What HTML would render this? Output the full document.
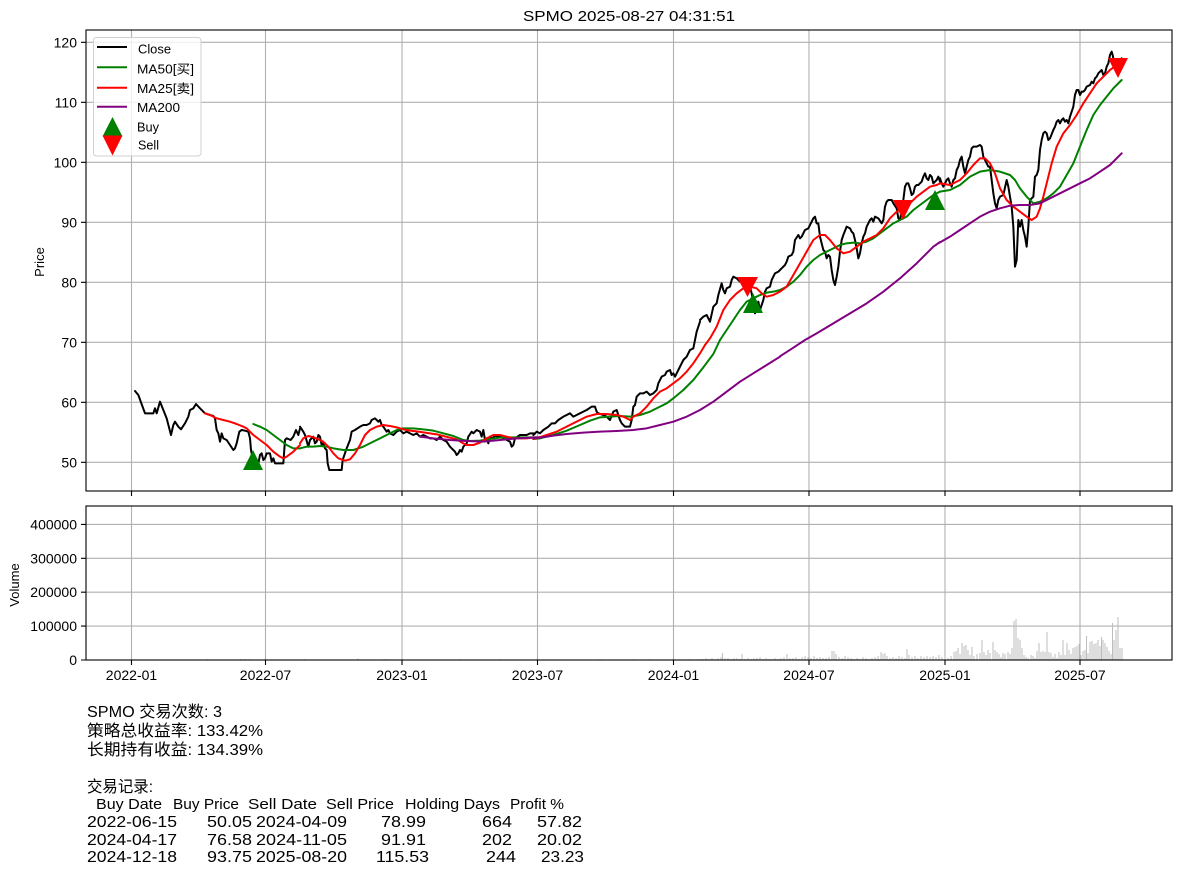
<!DOCTYPE html>
<html><head><meta charset="utf-8">
<style>
html,body{margin:0;padding:0;background:#fff;}
svg{display:block;font-family:"Liberation Sans","Noto Sans CJK SC",sans-serif;}
</style></head>
<body>
<svg width="1180" height="875" viewBox="0 0 1180 875" xmlns="http://www.w3.org/2000/svg">
<rect width="1180" height="875" fill="#fff"/>
<!-- title -->
<text x="523" y="21" font-size="15" textLength="212" lengthAdjust="spacingAndGlyphs">SPMO 2025-08-27 04:31:51</text>

<!-- ===== PRICE AXES ===== -->
<g stroke="#b0b0b0" stroke-width="1.1" fill="none">
  <path d="M131.5 30V491M265.5 30V491M402 30V491M537.5 30V491M673.5 30V491M809 30V491M945 30V491M1080 30V491"/>
  <path d="M86 42.3H1172M86 102.3H1172M86 162.3H1172M86 222.3H1172M86 282.3H1172M86 342.3H1172M86 402.3H1172M86 462.3H1172"/>
</g>
<g font-size="14" text-anchor="end" fill="#000">
  <text x="77" y="47.3">120</text>
  <text x="77" y="107.3">110</text>
  <text x="77" y="167.3">100</text>
  <text x="77" y="227.3">90</text>
  <text x="77" y="287.3">80</text>
  <text x="77" y="347.3">70</text>
  <text x="77" y="407.3">60</text>
  <text x="77" y="467.3">50</text>
</g>
<g stroke="#000" stroke-width="1.1">
  <path d="M81 42.3H86M81 102.3H86M81 162.3H86M81 222.3H86M81 282.3H86M81 342.3H86M81 402.3H86M81 462.3H86"/>
  <path d="M131.5 491V496M265.5 491V496M402 491V496M537.5 491V496M673.5 491V496M809 491V496M945 491V496M1080 491V496"/>
</g>
<text transform="translate(44,262) rotate(-90)" font-size="13" text-anchor="middle">Price</text>

<!-- Close line -->
<g fill="none" stroke="#000" stroke-width="2" stroke-linejoin="round" stroke-linecap="round">
<polyline vector-effect="non-scaling-stroke" transform="translate(120,380) scale(0.33333)" points="45,33 55,45 75,100 100,100 105,85 110,100 120,65 130,90 140,115 153,165 160,135 165,125 175,140 183,148 195,130 205,110 210,90 220,85 228,72 240,85 255,100 270,105 280,108 285,115 290,150 295,160 300,185 305,160 310,175 320,180 330,195 340,210 345,205 350,190 358,155 365,150 375,152 385,155 390,175 393,210 398,235 402,262 410,250 415,250 420,225 425,220 430,240 435,235 440,220 450,220 455,245 460,235 465,250 490,250 495,180 500,175 512,180 520,170 528,150 535,165 540,145"/>
<polyline vector-effect="non-scaling-stroke" transform="translate(300,400) scale(0.33333)" points="0,80 10,95 15,105 25,140 30,120 40,110 45,130 50,125 55,105 60,110 65,135 70,130 75,145 80,150 83,190 88,210 125,210 128,180 140,145 150,120 155,95 165,90 180,80 190,75 200,75 210,70 215,60 225,55 235,65 240,60 245,75 250,80 260,95 265,90 270,100 280,105 290,95 300,90 310,100 320,95 330,100 340,105 350,100 360,110 370,105 380,110 390,115 400,115 410,120 420,110 430,120 440,125 450,140 460,150 465,155 470,165 475,160 480,150 485,155 490,140 500,130 505,110 515,95 520,100 530,90 540,95 545,110 550,90 555,120 560,115 565,130 570,110 580,115 585,105 590,110 600,110 610,115 620,120 630,125 635,140 640,135 645,115 660,105 670,105 680,105 690,100 700,100 705,101"/>
<polyline vector-effect="non-scaling-stroke" transform="translate(400,260) scale(0.33333)" points="400,525 410,515 420,520 430,510 445,500 455,490 465,490 475,480 490,470 500,465 510,460 520,470 530,465 540,460 550,455 560,450 575,440 585,440 590,455 595,460 610,465 620,470 630,480 640,455 650,450 655,465 660,480 665,490 675,500 690,500 695,480 700,440 705,435 710,410 720,400 730,400 740,395 750,405 760,400 770,390 775,370 785,350 795,345 800,335 810,330 815,345 820,340 825,350 835,330 840,320 850,300 860,290 870,270 880,265 890,215 895,200 900,185"/>
<polyline vector-effect="non-scaling-stroke" transform="translate(700,140) scale(0.33333)" points="0,540 10,530 20,525 30,545 40,500 50,490 55,465 65,430 70,450 75,460 80,445 90,440 95,420 100,410 110,415 120,425 130,430 140,420 150,440 155,460 160,495 165,520 170,500 175,485 180,510 185,495 190,480 195,455 200,445 210,440 215,420 225,400 235,395 240,390 245,385 255,375 260,365 265,350 275,345 280,335 285,300 295,285 300,295 305,290 315,270 325,265 335,245 340,235 345,230 350,250 355,250 360,290 365,310 370,330 375,335 380,355 385,345 390,350 395,390 400,420 405,435 410,410 415,380 420,335 425,300 430,285 440,260 450,265 455,275 460,280 465,300 470,325 475,355 480,340 485,310 490,290 495,280 500,260 505,250 510,240 515,235 520,245 525,230 535,235 545,250 550,240 555,200 560,185 565,180 575,180 580,190 590,205 595,235 600,240 605,210 610,180 615,140 620,130 625,130 630,145 635,165 640,160 645,140 650,135 655,135 660,130 665,125 670,110 675,100 680,115 685,120 690,105 695,110 700,130 710,120 715,110 720,125"/>
<polyline vector-effect="non-scaling-stroke" transform="translate(940,40) scale(0.33333)" points="0,415 5,430 10,440 20,420 25,415 30,430 35,440 40,420 45,415 50,390 55,380 60,360 65,350 70,380 75,400 80,380 85,360 90,350 95,325 100,320 110,320 120,315 125,320 130,350 140,370 145,380 150,380 155,420 160,460 165,490 170,505 175,480 180,470 190,465 200,420 205,440 210,470 215,500 220,560 225,680 230,660 235,540 240,560 245,540 250,570 255,590 260,620 265,560 270,480 280,470 285,410 290,405 295,390 300,330 305,300 310,280 315,275 320,280 325,300 330,295 340,270 345,260 350,245 355,240 360,250 365,240 370,235 375,245 380,240 385,250 390,230 395,215 400,200 405,165 410,150 415,150 420,165 425,155 430,155 435,150 440,140 450,135 455,125 460,130 465,115 470,110 475,100 480,95 485,90 490,105 495,100 500,80 505,70 510,45 515,35 518,45 520,55 525,60 530,70 535,80 540,65 545,55"/>
</g>

<!-- MA50 green -->
<g fill="none" stroke="#008000" stroke-width="2" stroke-linejoin="round" stroke-linecap="round">
<polyline vector-effect="non-scaling-stroke" transform="translate(120,380) scale(0.33333)" points="400,132 420,140 440,150 460,165 480,180 500,195 520,205 540,205"/>
<polyline vector-effect="non-scaling-stroke" transform="translate(300,400) scale(0.33333)" points="0,145 20,140 40,140 60,138 80,140 100,145 130,150 160,150 190,140 220,125 250,110 270,100 290,90 310,85 340,85 370,88 400,92 430,100 460,108 490,120 510,123 540,122 570,117 600,113 630,112 660,112 690,112 720,112"/>
<polyline vector-effect="non-scaling-stroke" transform="translate(400,260) scale(0.33333)" points="400,537 420,535 460,525 500,512 540,495 570,482 600,472 630,470 660,468 690,470 720,465 750,455 780,440 800,430 820,415 850,390 880,360 910,322 940,282 960,240"/>
<polyline vector-effect="non-scaling-stroke" transform="translate(700,140) scale(0.33333)" points="60,600 80,570 100,540 120,510 140,485 160,475 180,465 200,458 220,455 240,450 260,440 280,425 300,405 320,380 340,360 360,345 380,335 400,325 420,315 440,310 460,308 480,310 500,305 520,295 540,280 560,265 580,250 600,240 620,230 640,210 660,195 680,180 700,165 720,155"/>
<polyline vector-effect="non-scaling-stroke" transform="translate(940,40) scale(0.33333)" points="0,455 30,450 60,435 90,410 120,395 150,390 180,395 210,405 225,420 240,445 260,470 280,490 300,485 320,475 340,460 360,440 380,405 400,370 420,320 440,270 460,225 480,195 500,170 520,145 545,120"/>
</g>

<!-- MA25 red -->
<g fill="none" stroke="#ff0000" stroke-width="2" stroke-linejoin="round" stroke-linecap="round">
<polyline vector-effect="non-scaling-stroke" transform="translate(120,380) scale(0.33333)" points="255,100 270,105 290,115 310,120 330,125 350,132 370,140 380,145 390,155 400,165 420,180 440,195 460,215 480,230 490,235 500,230 520,215 540,195"/>
<polyline vector-effect="non-scaling-stroke" transform="translate(300,400) scale(0.33333)" points="0,130 10,115 25,108 40,112 55,118 70,125 85,140 100,160 115,175 135,182 150,178 165,160 180,135 195,105 210,90 230,80 250,75 270,78 290,82 310,88 330,92 350,94 370,97 390,100 410,103 430,108 450,113 470,118 490,130 500,135 520,135 540,128 560,115 580,105 600,105 620,110 640,115 660,115 680,115 700,112 720,112"/>
<polyline vector-effect="non-scaling-stroke" transform="translate(400,260) scale(0.33333)" points="400,537 410,535 440,525 470,515 500,500 530,485 560,470 590,462 620,462 650,465 670,470 690,480 700,470 720,460 740,440 760,415 780,395 800,385 820,370 840,355 860,335 880,310 900,280 915,255"/>
<polyline vector-effect="non-scaling-stroke" transform="translate(700,140) scale(0.33333)" points="15,615 30,595 50,560 70,510 90,480 110,460 130,445 150,440 170,445 185,460 200,470 220,465 240,455 260,440 280,405 300,370 320,335 340,300 360,285 375,285 390,300 410,325 430,340 450,335 470,320 490,305 510,295 530,285 550,265 570,235 590,215 610,205 630,190 650,170 670,155 690,140 710,135 720,130"/>
<polyline vector-effect="non-scaling-stroke" transform="translate(940,40) scale(0.33333)" points="0,430 30,435 60,420 80,400 100,375 120,355 135,355 150,370 165,400 180,445 200,480 220,500 240,515 260,530 275,540 290,530 300,505 310,470 320,430 335,370 350,320 370,280 390,255 410,225 430,190 450,160 470,130 490,110 510,90 530,75 545,60"/>
</g>

<!-- MA200 purple -->
<g fill="none" stroke="#800080" stroke-width="2" stroke-linejoin="round" stroke-linecap="round">
<polyline vector-effect="non-scaling-stroke" transform="translate(300,400) scale(0.33333)" points="360,110 400,115 450,120 500,123 550,125 600,120 650,115 700,113 720,112"/>
<polyline vector-effect="non-scaling-stroke" transform="translate(400,260) scale(0.33333)" points="400,535 420,533 460,527 500,522 550,518 600,515 650,513 700,510 740,505 780,495 820,485 860,470 900,450 940,425 980,395 1020,365 1060,340 1100,315 1140,290"/>
<polyline vector-effect="non-scaling-stroke" transform="translate(700,140) scale(0.33333)" points="240,649 280,623 315,600 350,580 400,550 450,520 500,490 550,455 600,415 650,370 700,320 720,306"/>
<polyline vector-effect="non-scaling-stroke" transform="translate(940,40) scale(0.33333)" points="0,607 30,590 60,570 90,550 120,530 150,515 180,505 210,497 240,495 270,495 300,490 330,475 360,460 390,445 420,430 450,415 480,395 510,375 545,340"/>
</g>

<!-- markers -->
<g fill="#008000">
  <polygon points="253,450 243,470 263,470"/>
  <polygon points="753,293 743,313 763,313"/>
  <polygon points="935,190 925,210 945,210"/>
</g>
<g fill="#ff0000">
  <polygon points="737,277 758,277 747.5,297"/>
  <polygon points="893,200 913,200 903,220"/>
  <polygon points="1108,58 1128,58 1118,78"/>
</g>

<!-- legend -->
<rect x="93.5" y="37.5" width="107.5" height="118.5" rx="3" fill="#fff" fill-opacity="0.8" stroke="#d0d0d0" stroke-width="1"/>
<g stroke-width="2">
  <line x1="97" y1="47" x2="127" y2="47" stroke="#000"/>
  <line x1="97" y1="67.3" x2="127" y2="67.3" stroke="#008000"/>
  <line x1="97" y1="87.7" x2="127" y2="87.7" stroke="#ff0000"/>
  <line x1="97" y1="106.7" x2="127" y2="106.7" stroke="#800080"/>
</g>
<polygon points="112.5,117 102.5,136.5 122.5,136.5" fill="#008000"/>
<polygon points="102.5,135.5 122.5,135.5 112.5,155.5" fill="#ff0000"/>
<g font-size="12.5" fill="#000">
  <text x="138" y="53.5" textLength="33" lengthAdjust="spacingAndGlyphs">Close</text>
  <text x="137" y="73.5" textLength="57" lengthAdjust="spacingAndGlyphs">MA50[买]</text>
  <text x="137" y="93" textLength="57" lengthAdjust="spacingAndGlyphs">MA25[卖]</text>
  <text x="137" y="112" textLength="43" lengthAdjust="spacingAndGlyphs">MA200</text>
  <text x="137" y="131.5" textLength="22" lengthAdjust="spacingAndGlyphs">Buy</text>
  <text x="138" y="149.5" textLength="21" lengthAdjust="spacingAndGlyphs">Sell</text>
</g>

<!-- price axes frame -->
<rect x="86" y="30" width="1086" height="461" fill="none" stroke="#000" stroke-width="1.1"/>

<!-- ===== VOLUME AXES ===== -->
<g stroke="#b0b0b0" stroke-width="1.1" fill="none">
  <path d="M131.5 506V660M265.5 506V660M402 506V660M537.5 506V660M673.5 506V660M809 506V660M945 506V660M1080 506V660"/>
  <path d="M86 524.4H1172M86 558.3H1172M86 592.2H1172M86 626.1H1172"/>
</g>
<!-- volume bars -->
<path fill="none" stroke="#bdbdbd" stroke-width="1" d="M207 660v-1M241 660v-1M245 660v-1M250 660v-1M305 660v-1M358 660v-1.5M384 660v-1M387 660v-1M460 660v-1M500 660v-1M600 660v-1M634 660v-1M650 660v-1M690 660v-1M700 660v-1M703 660v-1M706 660v-2M709 660v-1M712 660v-2M715 660v-1M718 660v-2M721 660v-3M722.5 660v-7M725 660v-2M728 660v-2M731 660v-1M734 660v-2M737 660v-2M740 660v-1M742 660v-6M745 660v-1M748 660v-2M751 660v-1M754 660v-2M757 660v-2M760 660v-3M763 660v-1M766 660v-2M769 660v-1M772 660v-1M775 660v-2M778 660v-1M781 660v-2M784 660v-3M787 660v-6M790 660v-2M793 660v-2M796 660v-3M799 660v-1M802 660v-3M805 660v-4M808 660v-3M811 660v-2M814 660v-4M817 660v-2M820 660v-3M823 660v-2M826 660v-2M829 660v-3M832 660v-9M834 660v-9M836 660v-6M839 660v-3M842 660v-2M845 660v-4M848 660v-3M851 660v-2M854 660v-1M857 660v-2M860 660v-1M863 660v-3M866 660v-2M869 660v-1M872 660v-2M875 660v-3M878 660v-4M881 660v-8M883 660v-6M885 660v-7M887 660v-4M890 660v-2M893 660v-3M896 660v-2M899 660v-4M902 660v-3M905 660v-2M907 660v-11M909 660v-5M912 660v-3M915 660v-4M918 660v-2M921 660v-4M924 660v-3M927 660v-4M930 660v-3M933 660v-4M936 660v-3M939 660v-5M942 660v-3M945 660v-4M948 660v-2M951 660v-4M954 660v-8M956 660v-9M958 660v-12M960 660v-6M962 660v-17M964 660v-14M966 660v-15M968 660v-10M970 660v-5M972 660v-13M974 660v-4M977 660v-6M980 660v-7M982 660v-20M984 660v-8M986 660v-5M988 660v-10M990 660v-7M993 660v-18M995 660v-10M997 660v-8M999 660v-6M1001 660v-3M1003 660v-7M1005 660v-6M1008 660v-8M1010 660v-6M1012 660v-12M1014 660v-39M1016 660v-41M1018 660v-22M1020 660v-20M1022 660v-12M1024 660v-5M1026 660v-3M1028 660v-2M1031 660v-5M1033 660v-4M1035 660v-2M1037 660v-9M1039 660v-17M1041 660v-8M1043 660v-9M1045 660v-8M1047 660v-28M1049 660v-8M1051 660v-7M1053 660v-3M1055 660v-6M1057 660v-2M1059 660v-8M1061 660v-5M1063 660v-20M1065 660v-5M1067 660v-17M1069 660v-10M1071 660v-6M1073 660v-12M1075 660v-13M1077 660v-14M1079 660v-16M1081 660v-5M1083 660v-9M1085 660v-10M1086.5 660v-24M1088 660v-7M1090 660v-18M1092 660v-19M1094 660v-16M1096 660v-17M1098 660v-20M1100 660v-14M1101.5 660v-23M1103 660v-20M1105 660v-17M1107 660v-13M1109 660v-9M1111 660v-6M1112.5 660v-37M1114 660v-20M1116 660v-30M1118 660v-43M1120 660v-12M1122 660v-12"/>
<g font-size="14" text-anchor="end" fill="#000">
  <text x="77" y="529.4">400000</text>
  <text x="77" y="563.3">300000</text>
  <text x="77" y="597.2">200000</text>
  <text x="77" y="631.1">100000</text>
  <text x="77" y="665">0</text>
</g>
<g stroke="#000" stroke-width="1.1">
  <path d="M81 524.4H86M81 558.3H86M81 592.2H86M81 626.1H86M81 660H86"/>
  <path d="M131.5 660V665M265.5 660V665M402 660V665M537.5 660V665M673.5 660V665M809 660V665M945 660V665M1080 660V665"/>
</g>
<rect x="86" y="506" width="1086" height="154" fill="none" stroke="#000" stroke-width="1.1"/>
<text transform="translate(19,585) rotate(-90)" font-size="13" text-anchor="middle">Volume</text>
<g font-size="14" text-anchor="middle" fill="#000">
  <text x="131.5" y="680">2022-01</text>
  <text x="265.5" y="680">2022-07</text>
  <text x="402" y="680">2023-01</text>
  <text x="537.5" y="680">2023-07</text>
  <text x="673.5" y="680">2024-01</text>
  <text x="809" y="680">2024-07</text>
  <text x="945" y="680">2025-01</text>
  <text x="1080" y="680">2025-07</text>
</g>

<!-- ===== BOTTOM TEXT ===== -->
<g font-size="16" fill="#000">
  <text x="87" y="717" textLength="135" lengthAdjust="spacingAndGlyphs">SPMO 交易次数: 3</text>
  <text x="87" y="736" textLength="176" lengthAdjust="spacingAndGlyphs">策略总收益率: 133.42%</text>
  <text x="87" y="755" textLength="176" lengthAdjust="spacingAndGlyphs">长期持有收益: 134.39%</text>
  <text x="87" y="792" textLength="66" lengthAdjust="spacingAndGlyphs">交易记录:</text>
</g>
<g font-size="15" fill="#000">
  <text x="96" y="809" textLength="66" lengthAdjust="spacingAndGlyphs">Buy Date</text>
  <text x="173" y="809" textLength="66" lengthAdjust="spacingAndGlyphs">Buy Price</text>
  <text x="248" y="809" textLength="69" lengthAdjust="spacingAndGlyphs">Sell Date</text>
  <text x="326" y="809" textLength="68" lengthAdjust="spacingAndGlyphs">Sell Price</text>
  <text x="405" y="809" textLength="95" lengthAdjust="spacingAndGlyphs">Holding Days</text>
  <text x="510" y="809" textLength="54" lengthAdjust="spacingAndGlyphs">Profit %</text>
</g>
<g font-size="16" fill="#000">
  <text x="87" y="827" textLength="90" lengthAdjust="spacingAndGlyphs">2022-06-15</text>
  <text x="207" y="827" textLength="45" lengthAdjust="spacingAndGlyphs">50.05</text>
  <text x="256" y="827" textLength="91" lengthAdjust="spacingAndGlyphs">2024-04-09</text>
  <text x="381" y="827" textLength="45" lengthAdjust="spacingAndGlyphs">78.99</text>
  <text x="482" y="827" textLength="30" lengthAdjust="spacingAndGlyphs">664</text>
  <text x="537" y="827" textLength="45" lengthAdjust="spacingAndGlyphs">57.82</text>

  <text x="87" y="845" textLength="90" lengthAdjust="spacingAndGlyphs">2024-04-17</text>
  <text x="207" y="845" textLength="45" lengthAdjust="spacingAndGlyphs">76.58</text>
  <text x="256" y="845" textLength="91" lengthAdjust="spacingAndGlyphs">2024-11-05</text>
  <text x="381" y="845" textLength="45" lengthAdjust="spacingAndGlyphs">91.91</text>
  <text x="482" y="845" textLength="30" lengthAdjust="spacingAndGlyphs">202</text>
  <text x="537" y="845" textLength="45" lengthAdjust="spacingAndGlyphs">20.02</text>

  <text x="87" y="862" textLength="90" lengthAdjust="spacingAndGlyphs">2024-12-18</text>
  <text x="207" y="862" textLength="45" lengthAdjust="spacingAndGlyphs">93.75</text>
  <text x="256" y="862" textLength="91" lengthAdjust="spacingAndGlyphs">2025-08-20</text>
  <text x="376" y="862" textLength="53" lengthAdjust="spacingAndGlyphs">115.53</text>
  <text x="486" y="862" textLength="30" lengthAdjust="spacingAndGlyphs">244</text>
  <text x="541" y="862" textLength="43" lengthAdjust="spacingAndGlyphs">23.23</text>
</g>
</svg>
</body></html>
